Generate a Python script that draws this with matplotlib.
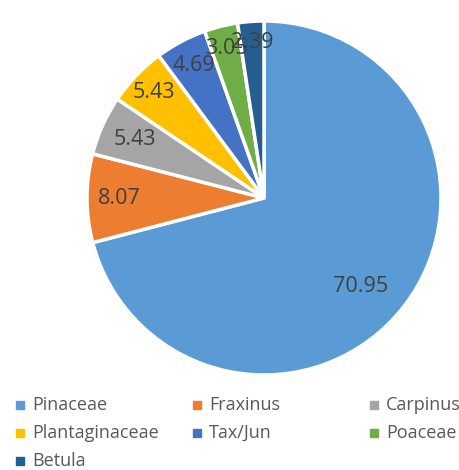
import numpy as np
import matplotlib
matplotlib.use('Agg')
import matplotlib.pyplot as plt
from matplotlib.lines import Line2D

plt.rcParams['font.family'] = ['Open Sans', 'DejaVu Sans']

categories = ['Pinaceae', 'Fraxinus', 'Carpinus', 'Plantaginaceae', 'Tax/Jun', 'Poaceae', 'Betula']
values = [70.95, 8.07, 5.43, 5.43, 4.69, 3.05, 2.39]
colors = ['#5B9BD5', '#ED7D31', '#A5A5A5', '#FFC000', '#4472C4', '#70AD47', '#255E91']

# label distance (fraction of radius) per slice, layout only
label_r = [0.74, 0.82, 0.80, 0.86, 0.85, 0.87, 0.88]

fig = plt.figure(figsize=(4.59, 4.70), dpi=100)
W, H = 459, 470
cx, cy, r = 264, 198, 177
ax = fig.add_axes([(cx - r) / W, (H - cy - r) / H, 2 * r / W, 2 * r / H])

wedges, _ = ax.pie(values, colors=colors, startangle=90, counterclock=False,
                   radius=1, wedgeprops=dict(edgecolor='white', linewidth=2.5))
ax.set_xlim(-1, 1)
ax.set_ylim(-1, 1)
ax.set_aspect('equal')
ax.axis('off')

for i, (w, v, d) in enumerate(zip(wedges, values, label_r)):
    ang = np.deg2rad((w.theta1 + w.theta2) / 2)
    if i == 0:
        ang -= np.deg2rad(5)  # Excel puts the big label a bit lower
    ax.text(d * np.cos(ang), d * np.sin(ang), f'{v:.2f}', ha='center', va='center',
            fontsize=15.5, color='#404040')

# legend, three columns
col_x = [20, 197, 374]
row_y = [405, 433, 461]
for i, (name, c) in enumerate(zip(categories, colors)):
    x = col_x[i % 3]
    y = row_y[i // 3]
    fig.add_artist(Line2D([x / W], [1 - y / H], marker='s', markersize=5.5,
                          color=c, linestyle='none', transform=fig.transFigure))
    fig.text((x + 12) / W, 1 - y / H, name, ha='left', va='center',
             fontsize=13, color='#595959')

fig.savefig('out.png', dpi=100)
